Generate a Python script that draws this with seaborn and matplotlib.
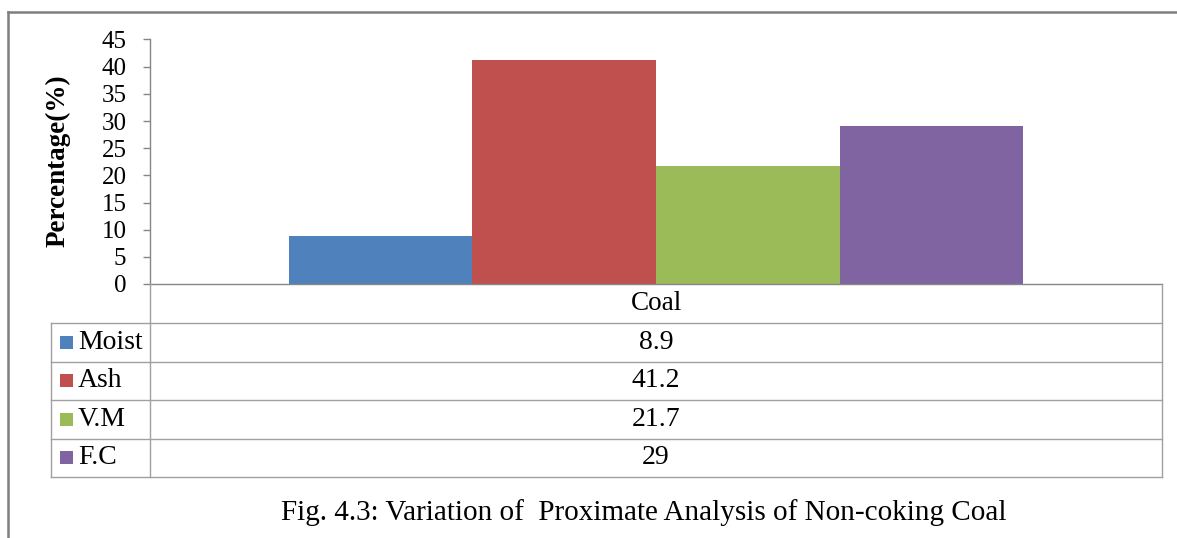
import matplotlib
matplotlib.use("Agg")
import matplotlib.pyplot as plt
from matplotlib.lines import Line2D
from matplotlib.patches import Rectangle
import seaborn as sns
import pandas as pd

# ---- data ----
category = "Coal"
components = ["Moist", "Ash", "V.M", "F.C"]
values = [8.9, 41.2, 21.7, 29]
colors = ["#4F81BD", "#C0504D", "#9BBB59", "#8064A2"]
y_ticks = [0, 5, 10, 15, 20, 25, 30, 35, 40, 45]
y_label = "Percentage(%)"
caption = "Fig. 4.3: Variation of  Proximate Analysis of Non-coking Coal"

W, H = 1177, 538
plt.rcParams["font.family"] = ["Liberation Serif", "DejaVu Serif"]

fig = plt.figure(figsize=(W / 100, H / 100), dpi=100)

def fx(x):
    return x / W

def fy(y):
    return 1 - y / H

# plot area in pixel coords
L, R, T, B = 150, 1162, 39.5, 284
ax = fig.add_axes([fx(L), fy(B), fx(R) - fx(L), fy(T) - fy(B)])

df = pd.DataFrame({"Sample": [category] * len(components),
                   "Component": components,
                   "Value": values})
sns.barplot(data=df, x="Sample", y="Value", hue="Component",
            hue_order=components, palette=colors, width=0.726,
            saturation=1, legend=False, linewidth=0, ax=ax)

ax.set_xlim(-0.5, 0.5)
ax.set_ylim(0, 45)
ax.set_yticks(y_ticks)
ax.set_yticklabels([str(t) for t in y_ticks], fontsize=18)
ax.tick_params(axis="y", direction="out", length=5, width=1,
               color="#868686", pad=12)
ax.tick_params(axis="x", length=0, pad=14, labelsize=19.5)
for lab in ax.get_xticklabels():
    lab.set_va("center")
ax.set_xlabel("")
ax.set_ylabel("")
for s in ["top", "right"]:
    ax.spines[s].set_visible(False)
for s in ["left", "bottom"]:
    ax.spines[s].set_color("#868686")
    ax.spines[s].set_linewidth(1)
ax.patch.set_alpha(0)

# y label
fig.text(fx(58), fy(161), y_label, rotation=90, ha="center", va="center",
         fontsize=19.5, fontweight="bold")

# ---- data table ----
grid = "#A0A0A0"
row_edges = [323, 361.5, 400, 438.5, 477]
tbl_left = 51

def hline(x0, x1, y):
    fig.add_artist(Line2D([fx(x0), fx(x1)], [fy(y), fy(y)],
                          color=grid, lw=1, transform=fig.transFigure))

def vline(x, y0, y1):
    fig.add_artist(Line2D([fx(x), fx(x)], [fy(y0), fy(y1)],
                          color=grid, lw=1, transform=fig.transFigure))

for y in row_edges:
    hline(tbl_left, R, y)
vline(tbl_left, row_edges[0], row_edges[-1])
vline(L, B, row_edges[-1])
vline(R, B, row_edges[-1])

cx = (L + R) / 2
for i, (name, val, col) in enumerate(zip(components, values, colors)):
    yc = (row_edges[i] + row_edges[i + 1]) / 2
    fig.add_artist(Rectangle((fx(60), fy(yc + 6.5)), fx(13), 13 / H,
                             facecolor=col, edgecolor="none",
                             transform=fig.transFigure))
    fig.text(fx(78), fy(yc), name, ha="left", va="center", fontsize=20)
    fig.text(fx(cx), fy(yc), f"{val:g}", ha="center", va="center", fontsize=20)

# outer frame
fig.add_artist(Line2D([fx(8), 1], [fy(12), fy(12)], color="#7F7F7F", lw=1.8,
                      transform=fig.transFigure))
fig.add_artist(Line2D([fx(8), fx(8)], [fy(12), 0], color="#7F7F7F", lw=1.8,
                      transform=fig.transFigure))

# caption
fig.text(fx(644), fy(513), caption, ha="center", va="center", fontsize=21)

fig.savefig("out.png", dpi=100)
